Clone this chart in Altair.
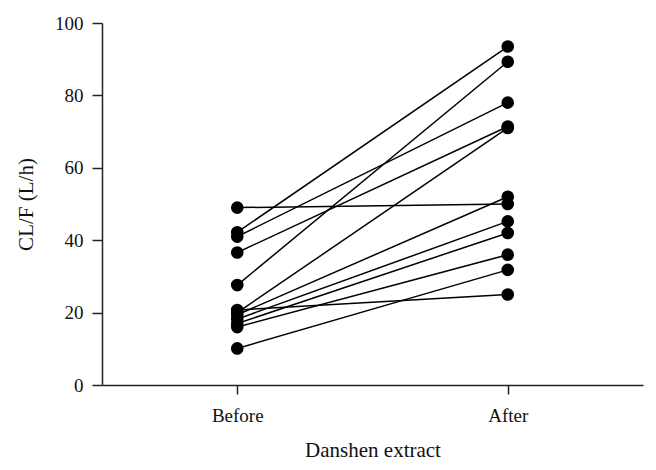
import altair as alt
import pandas as pd

subjects = list(range(1, 13))
before = [49.0, 42.2, 41.0, 36.6, 27.6, 10.1, 20.7, 20.0, 19.4, 18.2, 17.0, 16.0]
after = [50.0, 93.5, 78.0, 71.4, 89.3, 31.8, 25.0, 71.0, 52.0, 45.2, 42.0, 36.0]
phases = ["Before", "After"]

rows = []
for s, b, a in zip(subjects, before, after):
    rows.append({"subject": s, "phase": phases[0], "value": b})
    rows.append({"subject": s, "phase": phases[1], "value": a})
df = pd.DataFrame(rows)

FONT = "Liberation Serif"

x = alt.X(
    "phase:N",
    sort=phases,
    scale=alt.Scale(type="point", padding=0.5),
    axis=alt.Axis(
        title="Danshen extract",
        labelAngle=0,
        tickSize=9,
        labelPadding=12,
        titlePadding=14,
        domainColor="#222",
        tickColor="#222",
        domainWidth=1.5,
        tickWidth=1.5,
        grid=False,
    ),
)
y = alt.Y(
    "value:Q",
    scale=alt.Scale(domain=[0, 100], nice=False),
    axis=alt.Axis(
        title="CL/F (L/h)",
        values=[0, 20, 40, 60, 80, 100],
        tickSize=10,
        labelPadding=9,
        titlePadding=18,
        domainColor="#222",
        tickColor="#222",
        domainWidth=1.5,
        tickWidth=1.5,
        grid=False,
    ),
)

lines = alt.Chart(df).mark_line(color="black", strokeWidth=1.5).encode(
    x=x, y=y, detail="subject:N"
)
points = alt.Chart(df).mark_circle(color="black", opacity=1, size=160).encode(
    x=x, y=y
)

chart = (
    alt.layer(lines, points)
    .properties(
        width=541,
        height=362,
        autosize=alt.AutoSizeParams(type="none"),
        padding={"left": 94, "top": 15, "right": 5, "bottom": 80},
    )
    .configure_view(stroke=None)
    .configure_axis(
        labelFont=FONT,
        titleFont=FONT,
        labelFontSize=19,
        titleFontSize=21,
        labelColor="#111",
        titleColor="#111",
        titleFontWeight="normal",
    )
)

chart.save("out.html", embed_options={"renderer": "svg", "actions": False})
